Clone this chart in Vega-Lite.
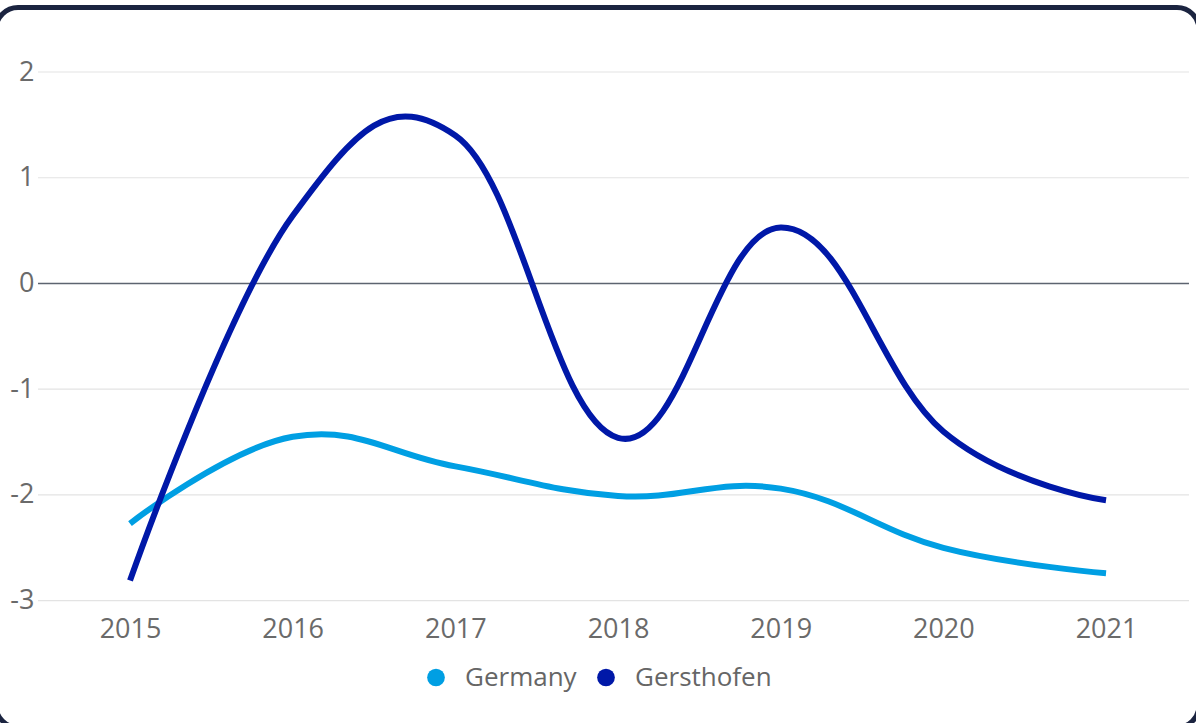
{
  "$schema": "https://vega.github.io/schema/vega-lite/v6.json",
  "autosize": {"type": "none"},
  "width": 1203,
  "height": 720,
  "padding": {"left": -4, "top": 7.5, "right": 0, "bottom": 0},
  "background": "white",
  "config": {
    "font": "Open Sans",
    "view": {"stroke": "#1b2440", "strokeWidth": 5, "cornerRadius": 22, "fill": "white"},
    "axisX": {"title": null, "grid": false, "domain": false, "ticks": false, "tickSize": 0,
              "offset": -126.8, "labelPadding": 29, "labelBaseline": "middle",
              "labelFontSize": 27, "labelColor": "#6a6a6a", "labelFont": "Open Sans"},
    "axisY": {"title": null, "grid": false, "domain": false, "ticks": false, "tickSize": 0,
              "offset": -38, "labelPadding": 0, "labelAlign": "right", "labelBaseline": "middle",
              "labelFontSize": 27, "labelColor": "#6a6a6a", "labelFont": "Open Sans"}
  },
  "datasets": {
    "series": [
      {"year": 2015, "region": "Germany", "value": -2.27},
      {"year": 2016, "region": "Germany", "value": -1.45},
      {"year": 2017, "region": "Germany", "value": -1.73},
      {"year": 2018, "region": "Germany", "value": -2.01},
      {"year": 2019, "region": "Germany", "value": -1.94},
      {"year": 2020, "region": "Germany", "value": -2.5},
      {"year": 2021, "region": "Germany", "value": -2.74},
      {"year": 2015, "region": "Gersthofen", "value": -2.81},
      {"year": 2016, "region": "Gersthofen", "value": 0.64},
      {"year": 2017, "region": "Gersthofen", "value": 1.4},
      {"year": 2018, "region": "Gersthofen", "value": -1.46},
      {"year": 2019, "region": "Gersthofen", "value": 0.53},
      {"year": 2020, "region": "Gersthofen", "value": -1.4},
      {"year": 2021, "region": "Gersthofen", "value": -2.05}
    ],
    "grid": [{"tick": -3}, {"tick": -2}, {"tick": -1}, {"tick": 1}, {"tick": 2}]
  },
  "layer": [
    {
      "data": {"name": "series"},
      "mark": {"type": "line", "opacity": 0, "strokeWidth": 0},
      "encoding": {
        "x": {"field": "year", "type": "quantitative",
              "scale": {"domain": [2014.1762, 2021.5715], "nice": false, "zero": false},
              "axis": {"values": [2015, 2016, 2017, 2018, 2019, 2020, 2021], "labelExpr": "'' + datum.value"}},
        "y": {"field": "value", "type": "quantitative",
              "scale": {"domain": [-4.1992, 2.61], "nice": false, "zero": false},
              "axis": {"values": [-3, -2, -1, 0, 1, 2], "labelExpr": "'' + datum.value"}}
      }
    },
    {
      "data": {"name": "grid"},
      "mark": {"type": "rule", "color": "#e3e3e3", "strokeWidth": 1.2},
      "encoding": {
        "y": {"field": "tick", "type": "quantitative"},
        "x": {"datum": 2014.4344, "type": "quantitative"},
        "x2": {"datum": 2021.51}
      }
    },
    {
      "data": {"values": [{"zero": 0}]},
      "mark": {"type": "rule", "color": "#5d6470", "strokeWidth": 1.6},
      "encoding": {
        "y": {"field": "zero", "type": "quantitative"},
        "x": {"datum": 2014.4344, "type": "quantitative"},
        "x2": {"datum": 2021.51}
      }
    },
    {
      "data": {"name": "series"},
      "mark": {"type": "line", "interpolate": "cardinal", "tension": -0.2, "strokeWidth": 6},
      "encoding": {
        "x": {"field": "year", "type": "quantitative"},
        "y": {"field": "value", "type": "quantitative"},
        "color": {"field": "region", "type": "nominal",
                  "scale": {"domain": ["Germany", "Gersthofen"], "range": ["#009fe3", "#0018a8"]},
                  "legend": {"title": null, "orient": "none", "legendX": 427, "legendY": 657,
                             "direction": "horizontal", "symbolType": "circle", "symbolSize": 314,
                             "symbolStrokeWidth": 0, "labelFontSize": 26, "labelColor": "#666666",
                             "labelFont": "Open Sans", "labelOffset": 16, "columnPadding": 16, "padding": 0,
                             "encode": {"symbols": {"update": {"fill": {"scale": "color", "field": "value"}, "strokeWidth": {"value": 0}}}}}}
      }
    }
  ]
}
